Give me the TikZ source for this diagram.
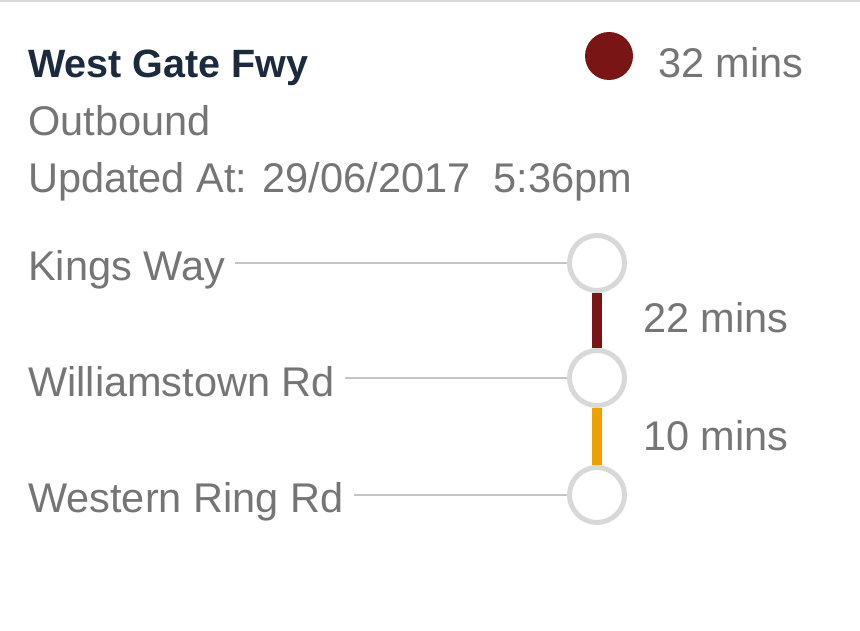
\documentclass[tikz,border=0pt]{standalone}
\usepackage{fontspec}
\setmainfont{Liberation Sans}
\definecolor{txtgray}{HTML}{757575}
\definecolor{titleblue}{HTML}{1B2A3C}
\definecolor{darkred}{HTML}{7A1515}
\definecolor{amber}{HTML}{EFA000}
\definecolor{ringgray}{HTML}{D8D8D8}
\definecolor{linegray}{HTML}{C4C4C4}
\begin{document}
\begin{tikzpicture}[x=1pt,y=-1pt,
  lbl/.style={anchor=base west,inner sep=0pt,text=txtgray,font=\fontsize{41.5}{46}\selectfont},
  ttl/.style={anchor=base west,inner sep=0pt,text=titleblue,font=\fontsize{39.5}{46}\selectfont\bfseries},
  stop/.style={circle,draw=ringgray,line width=5pt,fill=white,minimum size=55pt,inner sep=0pt},
  leader/.style={draw=linegray,line width=2pt},
  seg/.style={line width=10pt}]
\useasboundingbox (0,0) rectangle (860,631);
\fill[white] (0,0) rectangle (860,631);
\draw[ringgray,line width=2.5pt] (0,1.25) -- (860,1.25);
\node[ttl] (title) at (28,78) {West Gate Fwy};
\node[lbl] (dir) at (28,136) {Outbound};
\node[lbl] (upd) at (28,193) {Updated At: 29/06/2017\ \ 5:36pm};
\node[circle,fill=darkred,minimum size=48pt,inner sep=0pt] (dot) at (609,56) {};
\node[lbl] (total) at (658,78) {32 mins};
% stops
\node[stop] (s1) at (597,263) {};
\node[stop] (s2) at (597,378) {};
\node[stop] (s3) at (597,495) {};
\node[lbl] (k) at (28,280) {Kings Way};
\node[lbl] (w) at (28,396) {Williamstown Rd};
\node[lbl] (r) at (28,512) {Western Ring Rd};
\draw[leader] (k.east |- s1) ++(10,0) -- (s1.west);
\draw[leader] (w.east |- s2) ++(10,0) -- (s2.west);
\draw[leader] (r.east |- s3) ++(10,0) -- (s3.west);
\draw[seg,darkred] (s1.south) -- (s2.north);
\draw[seg,amber] (s2.south) -- (s3.north);
\node[lbl] (t1) at (643,333) {22 mins};
\node[lbl] (t2) at (643,450) {10 mins};
\end{tikzpicture}
\end{document}
